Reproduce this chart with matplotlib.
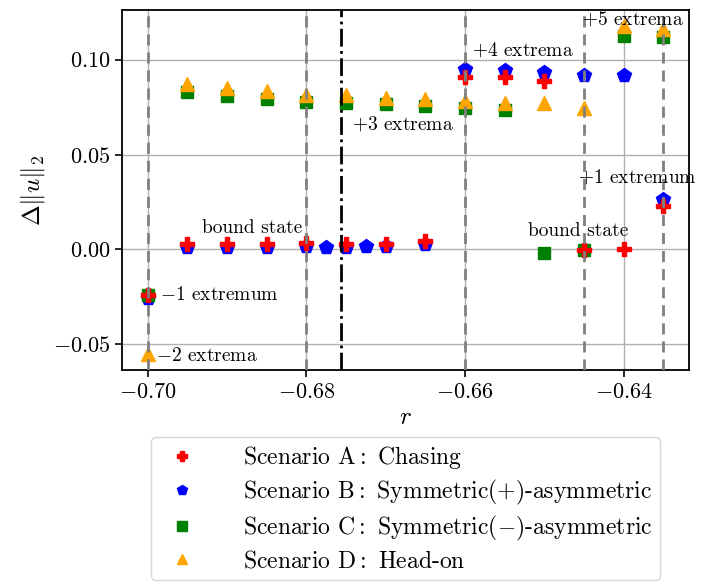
import numpy as np
import matplotlib
matplotlib.use("Agg")
import matplotlib.pyplot as plt

plt.rcParams['font.family'] = 'serif'
plt.rcParams['font.serif'] = ['cmr10']
plt.rcParams['mathtext.fontset'] = 'cm'
plt.rcParams['axes.formatter.use_mathtext'] = True
plt.rcParams['axes.unicode_minus'] = True

# --------------> DATA
r_a = [-0.700, -0.695, -0.690, -0.685, -0.680, -0.675, -0.670, -0.665,
       -0.660, -0.655, -0.650, -0.645, -0.640, -0.635]
du_a = [-0.0242, 0.0026, 0.0026, 0.0026, 0.0032, 0.0026, 0.0030, 0.0042,
        0.0910, 0.0910, 0.0889, -0.0004, 0.0000, 0.0230]

r_b = [-0.700, -0.695, -0.690, -0.685, -0.680, -0.6775, -0.675, -0.6725,
       -0.670, -0.665, -0.660, -0.655, -0.650, -0.645, -0.640, -0.635]
du_b = [-0.0255, 0.0014, 0.0014, 0.0014, 0.0017, 0.0014, 0.0015, 0.0020,
        0.0018, 0.0026, 0.0953, 0.0947, 0.0935, 0.0921, 0.0921, 0.0268]

r_c = [-0.700, -0.695, -0.690, -0.685, -0.680, -0.675, -0.670, -0.665,
       -0.660, -0.655, -0.650, -0.645, -0.640, -0.635]
du_c = [-0.0238, 0.0828, 0.0808, 0.0794, 0.0778, 0.0772, 0.0768, 0.0755,
        0.0747, 0.0737, -0.0018, -0.0005, 0.1127, 0.1118]

r_d = [-0.700, -0.695, -0.690, -0.685, -0.680, -0.675, -0.670, -0.665,
       -0.660, -0.655, -0.650, -0.645, -0.640, -0.635]
du_d = [-0.0551, 0.0874, 0.0851, 0.0835, 0.0814, 0.0812, 0.0800, 0.0791,
        0.0782, 0.0772, 0.0770, 0.0746, 0.1176, 0.1164]

labels = [r'Scenario A$:$ Chasing',
          r'Scenario B$:$ Symmetric($+$)-asymmetric',
          r'Scenario C$:$ Symmetric($-$)-asymmetric',
          r'Scenario D$:$ Head-on']

# vertical markers where the number of extrema changes
r_transitions = [-0.700, -0.680, -0.660, -0.645, -0.635]
r_critical = -0.6756

# annotations: (text, r, du, alignment)
notes = [
    ('bound state', -0.6869, 0.0110, 'center'),
    (r'$-1$ extremum', -0.6984, -0.0242, 'left'),
    (r'$-2$ extrema', -0.6989, -0.0563, 'left'),
    (r'$+3$ extrema', -0.6743, 0.0658, 'left'),
    (r'$+4$ extrema', -0.6591, 0.1050, 'left'),
    (r'$+5$ extrema', -0.6452, 0.1216, 'left'),
    (r'$+1$ extremum', -0.6457, 0.0379, 'left'),
    ('bound state', -0.6458, 0.0095, 'center'),
]

# --------------> PLOT
fig = plt.figure(figsize=(7.01, 5.84), dpi=100)
ax = fig.add_axes([0.174, 0.366, 0.809, 0.617])

ax.plot(r_a, du_a, 'P', color='red', ms=10, ls='none', label=labels[0], zorder=5)
ax.plot(r_b, du_b, 'p', color='blue', ms=10, ls='none', label=labels[1], zorder=3)
ax.plot(r_c, du_c, 's', color='green', ms=9, ls='none', label=labels[2], zorder=4)
ax.plot(r_d, du_d, '^', color='orange', ms=10, ls='none', label=labels[3], zorder=6)

for rv in r_transitions:
    ax.axvline(rv, color='gray', ls='--', lw=2, dashes=(4, 2.5), zorder=7)
ax.axvline(r_critical, color='black', ls='-.', lw=2, zorder=7)

for txt, x, y, ha in notes:
    ax.text(x, y, txt, ha=ha, va='center', fontsize=14, zorder=8)

ax.grid(True, color='#b0b0b0', lw=1)
ax.set_axisbelow(True)
ax.set_xticks([-0.70, -0.68, -0.66, -0.64])
ax.set_yticks([-0.05, 0.00, 0.05, 0.10])
ax.xaxis.set_major_formatter(matplotlib.ticker.FormatStrFormatter('$%.2f$'))
ax.yaxis.set_major_formatter(matplotlib.ticker.FormatStrFormatter('$%.2f$'))
ax.tick_params(labelsize=16, length=5, width=1.2)
for s in ax.spines.values():
    s.set_linewidth(1.3)

ax.set_xlabel(r'$r$', fontsize=18)
ax.set_ylabel(r'$\Delta\|u\|_2$', fontsize=18)

ax.legend(loc='upper center', bbox_to_anchor=(0.5, -0.152), fontsize=17,
          handletextpad=1.6, borderpad=0.3, labelspacing=0.3, markerscale=0.75)

fig.savefig('out.png', dpi=100)
